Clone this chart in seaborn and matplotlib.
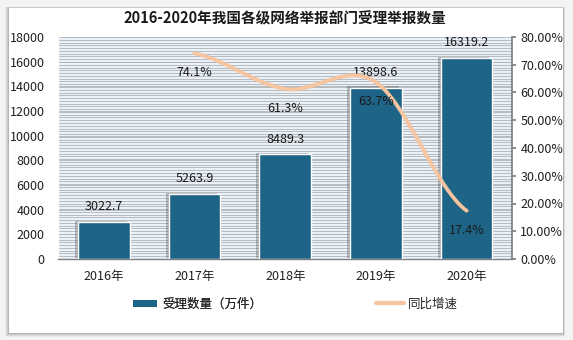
import numpy as np
import pandas as pd
import matplotlib
matplotlib.use("Agg")
import matplotlib.pyplot as plt
import matplotlib.patches as mpatches
import matplotlib.patheffects as pe
from matplotlib.lines import Line2D
import seaborn as sns

# ---- data ----
years = ["2016年", "2017年", "2018年", "2019年", "2020年"]
counts = [3022.7, 5263.9, 8489.3, 13898.6, 16319.2]
growth_years = ["2017年", "2018年", "2019年", "2020年"]
growth = [74.1, 61.3, 63.7, 17.4]
left_ticks = [0, 2000, 4000, 6000, 8000, 10000, 12000, 14000, 16000, 18000]
right_ticks = [0, 10, 20, 30, 40, 50, 60, 70, 80]
title = "2016-2020年我国各级网络举报部门受理举报数量"
bar_name = "受理数量（万件）"
line_name = "同比增速"

sns.set_theme(style="white")
plt.rcParams["font.family"] = ["Noto Sans CJK SC", "DejaVu Sans"]
plt.rcParams["axes.unicode_minus"] = False

W, H = 573, 340
fig = plt.figure(figsize=(W / 100, H / 100), dpi=100)
fig.patch.set_facecolor("#f4f4f4")

# outer panel with shadow
def px(x0, y0, x1, y1):
    return (x0 / W, 1 - y1 / H), (x1 - x0) / W, (y1 - y0) / H

for i, a in enumerate([0.10, 0.08, 0.06, 0.04]):
    d = 1 + i
    xy, w, h = px(9 - d, 8 - d * 0.3, 563 + d * 0.5, 333 + d)
    fig.patches.append(mpatches.Rectangle(xy, w, h, transform=fig.transFigure,
                                          facecolor="black", alpha=a, lw=0, zorder=-3))
xy, w, h = px(9, 8, 563, 333)
fig.patches.append(mpatches.Rectangle(xy, w, h, transform=fig.transFigure,
                                      facecolor="white", lw=0, zorder=-2))

L, R, T, B = 58.5, 512, 37, 259
ax = fig.add_axes([L / W, 1 - B / H, (R - L) / W, (B - T) / H])
ax.set_facecolor("#eaf1f8")

df = pd.DataFrame({"year": years, "count": counts})
bar_color = "#1d6486"
sns.barplot(data=df, x="year", y="count", order=years, color=bar_color,
            width=0.57, ax=ax, saturation=1, edgecolor="white", linewidth=1.0, zorder=3)
for p in ax.patches:
    p.set_path_effects([pe.SimplePatchShadow(offset=(-2.2, 0.8), shadow_rgbFace="#404040", alpha=0.3),
                        pe.Normal()])

ax.set_xlim(-0.5, 4.5)
ax.set_ylim(0, 18000)
ax.set_yticks(left_ticks)
ax.set_yticklabels([str(t) for t in left_ticks], fontsize=9, color="#202020")
ax.set_yticks(np.arange(0, 18001, 225), minor=True)
ax.grid(True, which="both", axis="y", color="#afb3b8", linewidth=0.6, zorder=0)
ax.set_axisbelow(True)
ax.tick_params(axis="y", which="both", length=0, pad=10)
ax.tick_params(axis="x", length=0, pad=8, labelsize=9, labelcolor="#202020")
ax.set_xlabel("")
ax.set_ylabel("")
for s in ["left", "top", "right"]:
    ax.spines[s].set_visible(False)
ax.spines["bottom"].set_color("#7f7f7f")
ax.spines["bottom"].set_linewidth(1.0)

for i, v in enumerate(counts):
    ax.annotate(f"{v}", (i, v), xytext=(0, 11), textcoords="offset points",
                ha="center", va="center", fontsize=9, color="#1a1a1a", zorder=6)

# right axis with smoothed growth line
ax2 = ax.twinx()
ax2.set_ylim(0, 80)
ax2.set_yticks(right_ticks)
ax2.set_yticklabels([f"{t:.2f}%" for t in right_ticks], fontsize=9, color="#202020")
ax2.tick_params(axis="y", length=3, color="#7f7f7f", pad=3)
for s in ["left", "top", "bottom"]:
    ax2.spines[s].set_visible(False)
ax2.spines["right"].set_color("#7f7f7f")
ax2.grid(False)

gx = np.array([years.index(y) for y in growth_years], dtype=float)
gy = np.array(growth, dtype=float)
n = len(gx)
m = np.zeros(n)
for i in range(n):
    if i == 0:
        m[i] = (gy[1] - gy[0]) * 0.5
    elif i == n - 1:
        m[i] = (gy[-1] - gy[-2]) * 0.5
    else:
        m[i] = (gy[i + 1] - gy[i - 1]) / 2
sx, sy = [], []
t = np.linspace(0, 1, 40)
for i in range(n - 1):
    h00 = 2 * t**3 - 3 * t**2 + 1
    h10 = t**3 - 2 * t**2 + t
    h01 = -2 * t**3 + 3 * t**2
    h11 = t**3 - t**2
    sx.extend(gx[i] + t * (gx[i + 1] - gx[i]))
    sy.extend(h00 * gy[i] + h10 * m[i] + h01 * gy[i + 1] + h11 * m[i + 1])
line_color = "#f7c6a0"
sns.lineplot(x=sx, y=sy, ax=ax2, color=line_color, linewidth=2.4, sort=False, zorder=5,
             path_effects=[pe.Stroke(linewidth=3.0, foreground="#eab58c", alpha=0.5), pe.Normal()])
for x, v in zip(gx, gy):
    ax2.annotate(f"{v}%", (x, v), xytext=(0, -14), textcoords="offset points",
                 ha="center", va="center", fontsize=9, color="#1a1a1a", zorder=6)

fig.text(285 / W, 1 - 18 / H, title, ha="center", va="center", fontsize=10.5,
         fontweight="bold", color="#1a1a1a")

handles = [mpatches.Patch(facecolor=bar_color, edgecolor="none"),
           Line2D([0], [0], color=line_color, linewidth=3)]
leg1 = fig.legend([handles[0]], [bar_name], loc="center left",
                  bbox_to_anchor=(122 / W, 1 - 304 / H), frameon=False, fontsize=9,
                  handlelength=1.9, handleheight=0.5, handletextpad=0.4)
leg2 = fig.legend([handles[1]], [line_name], loc="center left",
                  bbox_to_anchor=(365 / W, 1 - 304 / H), frameon=False, fontsize=9,
                  handlelength=2.2, handletextpad=0.3)
fig.add_artist(leg1)

fig.savefig("out.png", dpi=100, facecolor=fig.get_facecolor())
